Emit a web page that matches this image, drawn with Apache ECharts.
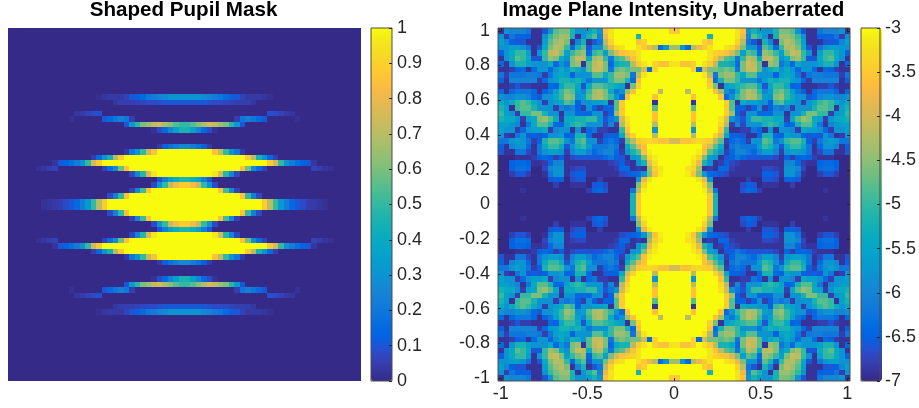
<!DOCTYPE html>
<html><head><meta charset="utf-8">
<style>html,body{margin:0;padding:0;background:#fff}#c{width:919px;height:408px}</style>
<script src="https://cdn.jsdelivr.net/npm/echarts@6/dist/echarts.min.js"></script>
</head><body><div id="c"></div>
<script>
const maskTitle = 'Shaped Pupil Mask';
const intensityTitle = 'Image Plane Intensity, Unaberrated';
const maskTicks = [0, 1];
const intensityTicks = [-7, -3];
// upper-left quadrant of the mask (the picture mirrors it left-right and top-bottom)
const maskQuadrant = [
[0,0,0,0,0,0,0,0,0,0,0,0,0,0,0,0,0,0,0,0,0,0,0,0,0,0,0,0,0,0,0,0],
[0,0,0,0,0,0,0,0,0,0,0,0,0,0,0,0,0,0,0,0,0,0,0,0,0,0,0,0,0,0,0,0],
[0,0,0,0,0,0,0,0,0,0,0,0,0,0,0,0,0,0,0,0,0,0,0,0,0,0,0,0,0,0,0,0],
[0,0,0,0,0,0,0,0,0,0,0,0,0,0,0,0,0,0,0,0,0,0,0,0,0,0,0,0,0,0,0,0],
[0,0,0,0,0,0,0,0,0,0,0,0,0,0,0,0,0,0,0,0,0,0,0,0,0,0,0,0,0,0,0,0],
[0,0,0,0,0,0,0,0,0,0,0,0,0,0,0,0,0,0,0,0,0,0,0,0,0,0,0,0,0,0,0,0],
[0,0,0,0,0,0,0,0,0,0,0,0,0,0,0,0,0,0,0,0,0,0,0,0,0,0,0,0,0,0,0,0],
[0,0,0,0,0,0,0,0,0,0,0,0,0,0,0,0,0,0,0,0,0,0,0,0,0,0,0,0,0,0,0,0],
[0,0,0,0,0,0,0,0,0,0,0,0,0,0,0,0,0,0,0,0,0,0,0,0,0,0,0,0,0,0,0,0],
[0,0,0,0,0,0,0,0,0,0,0,0,0,0,0,0,0,0,0,0,0,0,0,0,0,0,0,0,0,0,0,0],
[0,0,0,0,0,0,0,0,0,0,0,0,0,0,0,0,0,0,0,0,0,0,0,0,0,0,0,0,0,0,0,0],
[0,0,0,0,0,0,0,0,0,0,0,0,0,0,0,0,0,0,0,0,0,0,0,0,0,0,0,0,0,0,0,0],
[0,0,0,0,0,0,0,0,0,0,0,0,0,0,0,0,.015,.03,.04,.04,.035,.06,.1,.12,.15,.2,.22,.25,.27,.3,.3,.3],
[0,0,0,0,0,0,0,0,0,0,0,0,0,0,0,0,0,0,0,.03,.05,.05,.05,.06,.07,.08,.08,.09,.1,.1,.1,.1],
[0,0,0,0,0,0,0,0,0,0,0,0,0,0,0,0,0,0,0,0,0,0,0,0,0,0,0,0,0,0,0,0],
[0,0,0,0,0,0,0,0,0,0,0,0,.03,.04,.06,.08,.09,0,0,0,0,0,0,0,0,0,0,0,0,0,0,0],
[0,0,0,0,0,0,0,0,0,0,0,.02,0,0,0,0,0,.1,.15,.2,.24,.2,.05,0,0,0,0,0,0,0,0,0],
[0,0,0,0,0,0,0,0,0,0,0,0,0,0,0,0,0,0,0,0,0,.1,.33,.48,.6,.65,.72,.75,.68,.62,.55,.5],
[0,0,0,0,0,0,0,0,0,0,0,0,0,0,0,0,0,0,0,0,0,0,0,0,0,0,.02,.08,.15,.25,.35,.45],
[0,0,0,0,0,0,0,0,0,0,0,0,0,0,0,0,0,0,0,0,0,0,0,0,0,0,0,0,0,0,0,0],
[0,0,0,0,0,0,0,0,0,0,0,0,0,0,0,0,0,0,0,0,0,0,0,0,0,0,0,0,0,0,0,0],
[0,0,0,0,0,0,0,0,0,0,0,0,0,0,0,0,0,0,0,0,0,0,0,0,0,0,0,.04,.12,.18,.22,.27],
[0,0,0,0,0,0,0,0,0,0,0,0,0,0,0,0,0,0,0,0,0,.04,.2,.3,.5,.72,.85,1,1,1,1,1],
[0,0,0,0,0,0,0,0,0,0,0,0,0,0,0,.05,.15,.3,.45,.7,.88,1,1,1,1,1,1,1,1,1,1,1],
[0,0,0,0,0,0,0,0,.03,.1,.13,.17,.22,.3,.5,.75,.88,1,1,1,1,1,1,1,1,1,1,1,1,1,1,1],
[0,0,0,0,0,.02,.03,.05,.06,0,0,0,0,0,0,0,0,.06,.16,.28,.58,.86,1,1,1,1,1,1,1,1,1,1],
[0,0,0,0,0,0,0,0,0,0,0,0,0,0,0,0,0,0,0,0,0,0,.07,.25,.48,.75,.96,1,1,1,1,1],
[0,0,0,0,0,0,0,0,0,0,0,0,0,0,0,0,0,0,0,0,0,0,0,0,0,0,0,.1,.22,.35,.42,.46],
[0,0,0,0,0,0,0,0,0,0,0,0,0,0,0,0,0,0,0,0,0,0,0,0,0,0,.08,.3,.5,.72,.82,.88],
[0,0,0,0,0,0,0,0,0,0,0,0,0,0,0,0,0,0,0,0,0,0,.06,.25,.52,.86,1,1,1,1,1,1],
[0,0,0,0,0,0,0,0,0,0,0,0,0,0,0,0,0,0,.08,.23,.5,.85,1,1,1,1,1,1,1,1,1,1],
[0,0,0,0,0,0,.02,.03,.04,.05,.08,.1,.15,.22,.32,.5,.7,.88,1,1,1,1,1,1,1,1,1,1,1,1,1,1]
];
// upper-left quadrant of the log intensity, mirrored the same way
const intensityQuadrant = [
[-6.9,-5.8,-6,-6,-6,-6.2,-6.9,-6.9,-6.6,-5.8,-4.8,-4.6,-4.6,-5.2,-5.8,-5.8,-5.6,-5.2,-5.8,-3.6,-3.2,-3,-3,-3,-3,-3,-3,-3,-3,-3,-3,-3.5],
[-5.8,-6.8,-6.2,-6.5,-6.5,-6.5,-6.9,-6.9,-5.8,-5,-4.6,-4.4,-4.4,-5.2,-6.9,-5.8,-5.2,-4.8,-6,-3.8,-3.2,-3,-3,-3,-3,-5.2,-3,-3,-3,-3,-3,-3],
[-5.6,-6,-6.5,-6.6,-6.6,-6.9,-6.9,-6.9,-5.6,-4.8,-4.4,-4.2,-4.6,-6.9,-6,-5.2,-6.9,-6.6,-6.2,-4.2,-3.4,-3,-3,-3,-3,-3.6,-3.4,-3,-3,-3,-3,-3],
[-5.8,-5.8,-5.6,-5.6,-5.8,-6.2,-6.9,-6.6,-5.4,-4.6,-4.2,-4.3,-5,-6.4,-5.2,-4.8,-6.6,-5.8,-5.8,-4.6,-3.8,-3.3,-3.2,-3,-3,-3.2,-3.5,-3.8,-4.2,-6.4,-5.8,-4.4],
[-6.5,-5.8,-5.4,-5,-5,-5.6,-6.9,-5.8,-5,-4.2,-4.1,-4.6,-5.6,-5,-4.6,-4.4,-6.4,-5,-4.8,-5.6,-4.6,-4,-3.6,-3.5,-3.4,-3.2,-3,-3,-3,-3,-3,-3],
[-6.9,-5.8,-5.4,-4.8,-5,-5.4,-6.6,-6.6,-5,-4.4,-4.6,-5.4,-5.8,-4.6,-4.1,-4.2,-5.4,-4.4,-4.2,-5,-6.2,-5,-4.8,-4.2,-3.6,-3.2,-3,-3,-3,-3,-3,-3],
[-6.4,-6.9,-5.8,-5.2,-5.2,-5.6,-5.8,-5.8,-5.8,-5.4,-6.4,-5.8,-6.2,-4.6,-4.4,-6.9,-4.8,-4.2,-4,-4.6,-6.4,-5.4,-5.2,-5.2,-4.2,-3.5,-3.2,-3,-3.4,-3.6,-3.6,-3.2],
[-6.9,-6.9,-6.8,-6.5,-6.4,-6.9,-6.4,-5.8,-5.8,-6.4,-5.8,-5.4,-5.8,-5.2,-5.4,-5.8,-4.8,-4.1,-4.1,-4.6,-6.2,-4.8,-4.6,-4.8,-4.6,-4.6,-4,-6.4,-3.4,-3,-3,-3],
[-6.2,-6.8,-6.2,-6.2,-6.2,-6.1,-6.1,-6.2,-6.8,-6.2,-5.6,-5.4,-5.6,-6.5,-5.8,-5.8,-5.8,-4.8,-4.8,-5.4,-5,-4.4,-4.4,-4.6,-6.2,-4.2,-3.2,-3,-3,-3,-3,-3],
[-6.5,-6.9,-6,-6,-6,-6,-6,-6.8,-6.4,-5.8,-5.6,-5.2,-5.2,-5.4,-5.2,-5.6,-6.2,-5.8,-5.8,-5.8,-5,-4.6,-4.6,-5.2,-6.4,-3.6,-3,-3,-3,-3,-3,-3],
[-6.9,-6.9,-6.8,-6.6,-6.8,-6.8,-6.9,-6.9,-6.9,-6.4,-6.5,-5.4,-5,-5,-5.4,-6.6,-5.4,-4.8,-4.8,-5,-5.2,-5.4,-5.6,-6.9,-4.6,-3.4,-3,-3,-3,-3,-3,-3],
[-6.4,-6.9,-6.4,-6.2,-6.2,-6.2,-6.4,-6.9,-6.5,-6.2,-5.6,-5,-4.6,-4.8,-5.6,-6,-5,-4.4,-4.2,-4.6,-5.4,-6.2,-5.8,-4.4,-3.6,-3,-3,-3,-3,-4.2,-3,-3],
[-5.8,-6,-6,-5.8,-5.8,-6,-6.4,-6.6,-5.8,-5.8,-5.4,-5,-4.4,-4.6,-5.8,-5.6,-4.8,-4.3,-4.2,-4.6,-5,-5.8,-6.4,-3.6,-3,-3,-3,-3,-3.6,-3,-3,-3],
[-5.4,-5.8,-5.4,-5,-4.8,-5,-5.4,-5.8,-6.8,-5.8,-5.6,-5.4,-4.8,-5,-6.5,-5.8,-5.8,-5.6,-5.6,-5.4,-6.9,-4.8,-3.5,-3,-3,-3,-3,-3,-6.9,-3,-3,-3],
[-5.2,-5.6,-6.9,-5,-4.8,-4.8,-5.2,-5.8,-5.8,-5.8,-6.8,-6,-6.2,-6,-6.5,-6.8,-5.8,-6.5,-6.8,-6.5,-6.5,-4.8,-3.5,-3,-3,-3,-3,-3,-4.8,-3,-3,-3],
[-5,-5.6,-5.8,-6.8,-5,-5,-4.6,-4.6,-5.2,-5.8,-5.8,-6.9,-5.8,-5.8,-6.4,-6.4,-6.4,-5.8,-5.8,-6.8,-6.5,-4.4,-3.5,-3,-3,-3,-3,-3,-3.6,-3,-3,-3],
[-5.2,-5.4,-5.4,-5.8,-6.8,-5.6,-5.4,-4.6,-4.4,-4.8,-5.4,-6.8,-5.4,-5.4,-5.2,-5.2,-5,-5,-5.8,-6.6,-6.2,-5.8,-4,-3.2,-3,-3,-3,-3,-3.6,-3,-3,-3],
[-5.6,-5.6,-5.8,-6,-6.9,-6.2,-5.4,-4.8,-4.8,-5.2,-6.4,-6.5,-5.6,-5.2,-5,-5.2,-5.8,-5.8,-5.8,-6.7,-6,-6.8,-4.2,-3.3,-3,-3,-3,-3,-4.2,-3,-3,-3],
[-5.6,-5.8,-5.8,-6.8,-6.4,-5.8,-5.6,-5.6,-5.4,-6.8,-6,-5.8,-5.8,-6.9,-5.8,-6.9,-6.4,-6.2,-6.8,-6.8,-6.9,-6.9,-5,-3.6,-3,-3,-3,-3,-5.8,-3,-3,-3],
[-5.8,-6.8,-6.9,-6.2,-5.8,-6.6,-6.5,-6.6,-6.5,-5.8,-5.8,-5.6,-6.5,-6.4,-5.2,-5.2,-6.4,-6.9,-6.9,-6.6,-6.5,-6.5,-5.4,-4,-3.4,-3,-3,-3,-4.2,-3,-3,-3],
[-6.2,-6.2,-5.8,-5.6,-5.8,-6.2,-6.8,-6.5,-5.2,-4.8,-4.8,-5,-5.8,-6.2,-5,-4.8,-5.8,-5.8,-6.8,-6.4,-6.2,-6.4,-6.8,-4.8,-4.2,-3.5,-3.4,-3.3,-3.4,-3.6,-3.6,-4],
[-6.5,-6.9,-6,-5.8,-5.8,-6.4,-6.9,-6.2,-5.4,-5,-5,-5.4,-6.6,-5.8,-5.2,-5,-5.6,-6.2,-6.2,-6.2,-6,-6.2,-6.9,-5.4,-4.8,-4,-3.6,-3,-3,-3,-3,-3],
[-6.6,-6.9,-6.9,-6.2,-6.2,-6.7,-6.9,-6.2,-5.8,-5.6,-5.6,-5.8,-6.8,-6,-5.6,-5.6,-6,-6.4,-6.2,-6,-6,-6.4,-6.8,-5.8,-5.2,-4.8,-3.6,-3.1,-3,-3,-3,-3],
[-7,-7,-7,-6.9,-6.9,-6.9,-6.8,-6.5,-6.4,-6.5,-6.8,-6.5,-6.9,-6.7,-6.6,-6.6,-6.6,-6.6,-6.6,-6.4,-6.2,-6.5,-6.6,-6.9,-5.8,-5.6,-4.6,-3.4,-3.1,-3,-3,-3],
[-7,-7,-6.5,-6.4,-6.4,-6.5,-6.9,-6.9,-6.8,-6.4,-6,-6,-6.9,-6.9,-6.9,-6.9,-6.9,-6.9,-6.9,-6.9,-6.8,-6.7,-6.5,-6.8,-6.9,-5.8,-5.2,-3.8,-3.2,-3,-3,-3],
[-7,-7,-6.5,-6.3,-6.3,-6.4,-7,-7,-6.7,-6,-5.8,-5.8,-6.9,-6.8,-6.7,-6.7,-6.9,-6.9,-6.9,-6.9,-6.9,-6.8,-6.4,-6.4,-6.9,-6.8,-6.9,-4.4,-3.4,-3.2,-3,-3],
[-7,-7,-6.8,-6.6,-6.6,-6.8,-7,-7,-6.9,-6.2,-5.8,-5.8,-6.9,-6.6,-6.5,-6.5,-6.9,-6.9,-6.9,-6.9,-6.9,-6.9,-6.7,-6.6,-6.5,-6.4,-5.8,-4.6,-3.6,-3.1,-3,-3],
[-7,-7,-7,-7,-7,-7,-7,-7,-7,-6.6,-6.5,-6.5,-7,-6.7,-6.6,-6.6,-7,-7,-6.8,-7,-7,-7,-7,-7,-7,-5.8,-3.8,-3.2,-3,-3,-3,-3],
[-7,-7,-7,-7,-7,-7,-7,-7,-7,-7,-6.8,-7,-7,-6.9,-6.9,-6.9,-7,-6.6,-6.5,-6.7,-7,-7,-7,-7,-7,-4.6,-3.4,-3,-3,-3,-3,-3],
[-7,-7,-7,-7,-6.9,-7,-7,-7,-7,-7,-7,-7,-7,-7,-7,-7,-6.8,-6.5,-6.4,-6.6,-7,-7,-7,-7,-6.2,-4.2,-3.1,-3,-3,-3,-3,-3],
[-7,-7,-7,-7,-7,-7,-7,-7,-7,-7,-7,-7,-7,-7,-7,-7,-7,-7,-7,-7,-7,-7,-7,-7,-5.2,-3.5,-3,-3,-3,-3,-3,-3],
[-7,-7,-7,-7,-7,-7,-7,-7,-7,-7,-7,-7,-7,-7,-7,-7,-7,-7,-7,-7,-7,-7,-7,-7,-5.2,-3.5,-3,-3,-3,-3,-3,-3]
];
const parula = [[.2081,.1663,.5292],[.2116,.1898,.5777],[.2123,.2138,.6270],[.2081,.2386,.6771],[.1959,.2645,.7279],[.1707,.2919,.7792],[.1253,.3242,.8303],[.0591,.3598,.8683],[.0117,.3875,.8820],[.0060,.4086,.8828],[.0165,.4266,.8786],[.0329,.4430,.8720],[.0498,.4586,.8641],[.0629,.4737,.8554],[.0723,.4887,.8467],[.0779,.5040,.8384],[.0793,.5200,.8312],[.0749,.5375,.8263],[.0641,.5570,.8240],[.0488,.5772,.8228],[.0343,.5966,.8199],[.0265,.6137,.8135],[.0239,.6287,.8038],[.0231,.6418,.7913],[.0228,.6535,.7768],[.0267,.6642,.7607],[.0384,.6743,.7436],[.0590,.6838,.7254],[.0843,.6928,.7062],[.1133,.7015,.6859],[.1453,.7098,.6646],[.1801,.7177,.6424],[.2178,.7250,.6193],[.2586,.7317,.5954],[.3022,.7376,.5712],[.3482,.7424,.5473],[.3953,.7459,.5244],[.4420,.7481,.5033],[.4871,.7491,.4840],[.5300,.7491,.4661],[.5709,.7485,.4494],[.6099,.7473,.4337],[.6473,.7456,.4188],[.6834,.7435,.4044],[.7184,.7411,.3905],[.7525,.7384,.3768],[.7858,.7356,.3633],[.8185,.7327,.3498],[.8507,.7299,.3360],[.8824,.7274,.3217],[.9139,.7258,.3063],[.9450,.7261,.2886],[.9739,.7314,.2666],[.9938,.7455,.2403],[.9990,.7653,.2164],[.9955,.7861,.1967],[.9880,.8066,.1794],[.9789,.8271,.1633],[.9697,.8481,.1475],[.9626,.8705,.1309],[.9589,.8949,.1132],[.9598,.9218,.0948],[.9661,.9514,.0755],[.9763,.9831,.0538]];
const colors = parula.map(c => 'rgb(' + c.map(v => Math.round(v * 255)).join(',') + ')');

function mirrorCells(quadrant) {
  const half = quadrant.map(r => r.concat(r.slice().reverse()));
  const full = half.concat(half.slice().reverse());
  const cells = [];
  full.forEach((row, r) => row.forEach((v, c) => cells.push([c, r, v])));
  return cells;
}
// cell edges are snapped to whole pixels so neighbouring cells leave no seam
const renderCell = (params, api) => {
  const p = api.coord([api.value(0), api.value(1)]);
  const s = api.size([1, 1]);
  const x0 = Math.round(p[0] - s[0] / 2), x1 = Math.round(p[0] + s[0] / 2);
  const y0 = Math.round(p[1] - s[1] / 2), y1 = Math.round(p[1] + s[1] / 2);
  return {type: 'rect', shape: {x: x0, y: y0, width: x1 - x0, height: y1 - y0},
    style: {fill: api.visual('color')}};
};
const indices = Array.from({length: 64}, (_, i) => i);
const font = 'Liberation Sans';
const ink = '#262626', frame = '#4d4d4d';
const label = {color: ink, fontFamily: font, fontSize: 18};
const tick = {show: true, inside: true, length: 3, lineStyle: {color: ink, width: 1}};
const hiddenCat = (gridIndex, extra) => Object.assign({type: 'category', gridIndex, data: indices, show: false}, extra || {});
const hiddenVal = gridIndex => ({type: 'value', gridIndex, show: false, min: 0, max: 1});
const noLine = {show: false, onZero: false};
const titleStyle = {fontFamily: font, fontSize: 20.6, fontWeight: 'bold', color: '#000'};

const option = {
  animation: false,
  backgroundColor: '#fff',
  title: [
    {text: maskTitle, left: 183.5, top: 0, padding: 0, textAlign: 'center', textStyle: titleStyle},
    {text: intensityTitle, left: 673.5, top: 0, padding: 0, textAlign: 'center', textStyle: titleStyle}
  ],
  grid: [
    {left: 8, top: 28, width: 353, height: 353},          // 0 mask image
    {left: 498, top: 28, width: 352, height: 353},        // 1 intensity image
    {left: 500.75, top: 30.76, width: 346.5, height: 347.48, z: 6}, // 2 intensity axes, at the first and last cell centres
    {left: 498, top: 28, width: 352, height: 353, show: true, backgroundColor: 'transparent', borderColor: frame, borderWidth: 1, z: 5}, // 3 frame
    {left: 371, top: 28, width: 21, height: 353, show: true, backgroundColor: 'transparent', borderColor: frame, borderWidth: 1, z: 5},  // 4 colourbar
    {left: 861, top: 28, width: 21, height: 353, show: true, backgroundColor: 'transparent', borderColor: frame, borderWidth: 1, z: 5}   // 5 colourbar
  ],
  xAxis: [
    hiddenCat(0), hiddenCat(1),
    {type: 'value', gridIndex: 2, position: 'bottom', offset: 2.76, min: -1, max: 1, interval: 0.5, z: 10,
      axisLine: noLine, axisTick: tick, splitLine: {show: false}, axisLabel: Object.assign({margin: 4}, label)},
    {type: 'value', gridIndex: 2, position: 'top', offset: 2.76, min: -1, max: 1, interval: 0.5, z: 10,
      axisLine: noLine, axisTick: tick, splitLine: {show: false}, axisLabel: {show: false}},
    hiddenVal(3), hiddenVal(4), hiddenVal(5)
  ],
  yAxis: [
    hiddenCat(0, {inverse: true}), hiddenCat(1, {inverse: true}),
    {type: 'value', gridIndex: 2, position: 'left', offset: 2.75, min: -1, max: 1, interval: 0.2, z: 10,
      axisLine: noLine, axisTick: tick, splitLine: {show: false}, axisLabel: Object.assign({margin: 8, formatter: v => String(+v.toFixed(1))}, label)},
    {type: 'value', gridIndex: 2, position: 'right', offset: 2.75, min: -1, max: 1, interval: 0.2, z: 10,
      axisLine: noLine, axisTick: tick, splitLine: {show: false}, axisLabel: {show: false}},
    hiddenVal(3),
    {type: 'value', gridIndex: 4, position: 'right', min: maskTicks[0], max: maskTicks[1], interval: 0.1, z: 10,
      axisLine: noLine, axisTick: tick, splitLine: {show: false}, axisLabel: Object.assign({margin: 5, formatter: v => String(+v.toFixed(1))}, label)},
    {type: 'value', gridIndex: 5, position: 'right', min: intensityTicks[0], max: intensityTicks[1], interval: 0.5, z: 10,
      axisLine: noLine, axisTick: tick, splitLine: {show: false}, axisLabel: Object.assign({margin: 5}, label)}
  ],
  visualMap: [
    {type: 'continuous', seriesIndex: 0, dimension: 2, min: maskTicks[0], max: maskTicks[1], calculable: false, left: 371, top: 28, padding: 0,
      itemWidth: 21, itemHeight: 353, text: null, inRange: {color: colors}, z: 1, hoverLink: false},
    {type: 'continuous', seriesIndex: 1, dimension: 2, min: intensityTicks[0], max: intensityTicks[1], calculable: false, left: 861, top: 28, padding: 0,
      itemWidth: 21, itemHeight: 353, text: null, inRange: {color: colors}, z: 1, hoverLink: false}
  ],
  series: [
    {type: 'custom', renderItem: renderCell, xAxisIndex: 0, yAxisIndex: 0, encode: {x: 0, y: 1}, data: mirrorCells(maskQuadrant), silent: true},
    {type: 'custom', renderItem: renderCell, xAxisIndex: 1, yAxisIndex: 1, encode: {x: 0, y: 1}, data: mirrorCells(intensityQuadrant), silent: true}
  ]
};
const chart = echarts.init(document.getElementById('c'), null, {renderer: 'canvas'});
chart.setOption(option);
</script></body></html>
